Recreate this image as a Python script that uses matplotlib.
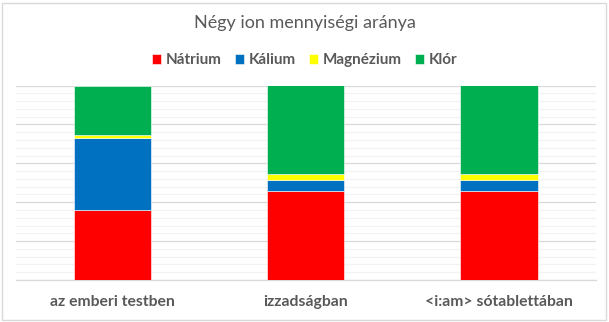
import matplotlib
matplotlib.use("Agg")
import matplotlib.pyplot as plt
from matplotlib.patches import Rectangle
from matplotlib.ticker import MultipleLocator
import numpy as np

categories = ["az emberi testben", "izzadságban", "<i:am> sótablettában"]
series_names = ["Nátrium", "Kálium", "Magnézium", "Klór"]
natrium = [36.1, 45.8, 45.8]
kalium = [36.9, 5.5, 5.5]
magnezium = [1.5, 3.1, 3.1]
klor = [25.5, 45.6, 45.6]
colors = ["#FF0000", "#0070C0", "#FFFF00", "#00B050"]

title = "Négy ion mennyiségi aránya"
text_color = "#595959"

plt.rcParams["font.family"] = ["Lato", "DejaVu Sans"]

fig = plt.figure(figsize=(6.09, 3.22), dpi=100)
W, H = 609, 322
ax = fig.add_axes([16 / W, 1 - 280 / H, (595.5 - 16) / W, (280 - 85.5) / H])

values = np.array([natrium, kalium, magnezium, klor], dtype=float)
shares = values / values.sum(axis=0) * 100
x = np.arange(len(categories))
bottom = np.zeros(len(categories))
for name, vals, col in zip(series_names, shares, colors):
    ax.bar(x, vals, bottom=bottom, width=0.4, color=col, label=name,
           edgecolor="white", linewidth=0.4, zorder=3)
    bottom += vals

ax.set_xlim(-0.5, len(categories) - 0.5)
ax.set_ylim(0, 100)
ax.yaxis.set_major_locator(MultipleLocator(20))
ax.yaxis.set_minor_locator(MultipleLocator(4))
ax.grid(axis="y", which="major", color="#D9D9D9", linewidth=0.9, zorder=0)
ax.grid(axis="y", which="minor", color="#F2F2F2", linewidth=0.9, zorder=0)
ax.tick_params(axis="y", which="both", left=False, labelleft=False)
ax.tick_params(axis="x", length=0, pad=11)
ax.set_xticks(x)
ax.set_xticklabels(categories, fontsize=11.3, fontweight="bold", color=text_color)
for side in ["left", "right", "top"]:
    ax.spines[side].set_visible(False)
ax.spines["bottom"].set_color("#D9D9D9")
ax.spines["bottom"].set_linewidth(0.9)

fig.text(0.5, 1 - 23 / H, title, ha="center", va="center",
         fontsize=13, color=text_color)

leg = fig.legend(loc="center", bbox_to_anchor=(0.5, 1 - 60 / H), ncol=4,
                 frameon=False, handlelength=0.62, handleheight=0.62,
                 handletextpad=0.3, columnspacing=0.85,
                 prop={"size": 11, "weight": "bold"})
for t in leg.get_texts():
    t.set_color(text_color)

fig.patches.append(Rectangle((2 / W, 2 / H), 1 - 5 / W, 1 - 5 / H,
                             transform=fig.transFigure, fill=False,
                             edgecolor="#D9D9D9", linewidth=1.0))

fig.savefig("out.png", dpi=100)
